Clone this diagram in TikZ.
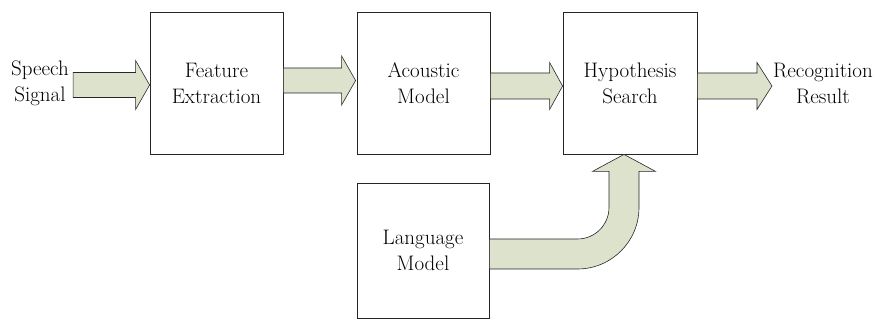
\documentclass[tikz,border=0pt]{standalone}
\usepackage{fontspec}
\usetikzlibrary{calc}
\definecolor{arrowfill}{RGB}{220,226,204}
\tikzset{
  blockbox/.style={draw=black!85, line width=0.8pt, minimum width=133pt, minimum height=142pt, inner sep=0pt, align=center, font=\rmfamily\fontsize{21}{26}\selectfont},
  lbl/.style={inner sep=1pt, align=center, font=\rmfamily\fontsize{21}{26}\selectfont},
  barrow/.style={fill=arrowfill, draw=black!85, line width=0.6pt, line join=miter}
}
\newcommand\blockarr[5]{%
  \draw[barrow] let \p1=#1, \p2=#2 in
    (\x1,\y2+#3pt) -- (\x2-#5pt,\y2+#3pt) -- (\x2-#5pt,\y2+#4pt) -- (\x2,\y2)
    -- (\x2-#5pt,\y2-#4pt) -- (\x2-#5pt,\y2-#3pt) -- (\x1,\y2-#3pt) -- cycle;}
\begin{document}
\begin{tikzpicture}[x=1pt,y=1pt]
\useasboundingbox (0,0) rectangle (876,-320);
\node[lbl] (sig) at (40,-83) {Speech\\Signal};
\node[blockbox] (fe) at (216.5,-83) {Feature\\Extraction};
\node[blockbox] (ac) at (423.5,-83) {Acoustic\\Model};
\node[blockbox, minimum width=134pt] (hy) at (630,-83) {Hypothesis\\Search};
\node[lbl] (rec) at (823,-83) {Recognition\\Result};
\node[blockbox, minimum width=132pt, minimum height=135pt] (lm) at (423,-250.5) {Language\\Model};
% straight block arrows
\blockarr{($(sig.east)+(3,0)$)}{($(fe.west)+(0,-2)$)}{12.5}{24.5}{14}
\blockarr{(fe.east)}{($(ac.west)+(-1,2.5)$)}{12.5}{24.5}{14}
\blockarr{(ac.east)}{($(hy.west)+(0,-3)$)}{13}{23.5}{13}
\blockarr{(hy.east)}{($(rec.west)+(0,-3)$)}{13}{23.5}{15}
% bent block arrow from language model to hypothesis search
\draw[barrow] let \p1=(lm.east), \p2=($(hy.south)+(-6,0)$) in
  (\x1,\y1+11.5pt) -- (\x2-46.5pt,\y1+11.5pt)
  arc[start angle=-90, end angle=0, radius=31.5pt]
  -- (\x2-15pt,\y2-17pt) -- (\x2-31.5pt,\y2-17pt) -- (\x2,\y2)
  -- (\x2+31.5pt,\y2-17pt) -- (\x2+15pt,\y2-17pt) -- (\x2+15pt,\y1+43pt)
  arc[start angle=0, end angle=-90, radius=61.5pt]
  -- (\x1,\y1-18.5pt) -- cycle;
\end{tikzpicture}
\end{document}
